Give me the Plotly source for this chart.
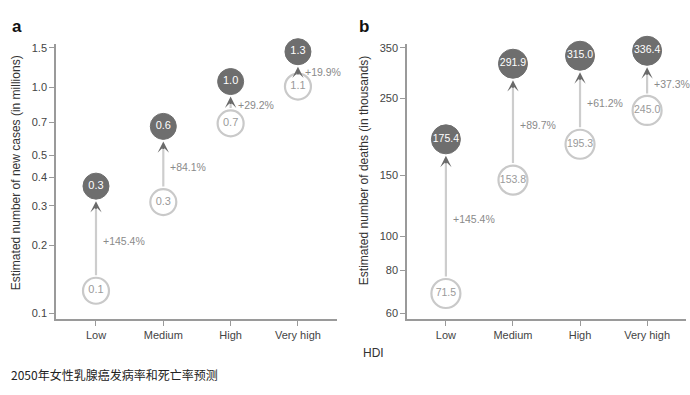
import numpy as np
import plotly.graph_objects as go

# ---------------- data ----------------
categories = ["Low", "Medium", "High", "Very high"]

# Panel a: new cases (millions) - circle positions
cases_2022_pos = [0.126, 0.311, 0.694, 1.01]
cases_2050_pos = [0.366, 0.673, 1.063, 1.441]
cases_2022_lbl = ["0.1", "0.3", "0.7", "1.1"]
cases_2050_lbl = ["0.3", "0.6", "1.0", "1.3"]
cases_change = ["+145.4%", "+84.1%", "+29.2%", "+19.9%"]

# Panel b: deaths (thousands)
deaths_2022_pos = [68.5, 145.4, 184.5, 230.9]
deaths_2050_pos = [190.6, 314.9, 332.0, 343.1]
deaths_2022_lbl = ["71.5", "153.8", "195.3", "245.0"]
deaths_2050_lbl = ["175.4", "291.9", "315.0", "336.4"]
deaths_change = ["+145.4%", "+89.7%", "+61.2%", "+37.3%"]

cases_ticks = [0.1, 0.2, 0.3, 0.4, 0.5, 0.7, 1.0, 1.5]
cases_ticktext = ["0.1", "0.2", "0.3", "0.4", "0.5", "0.7", "1.0", "1.5"]
deaths_ticks = [60, 80, 100, 150, 250, 350]
deaths_ticktext = ["60", "80", "100", "150", "250", "350"]

# ---------------- style ----------------
FONT = "Liberation Sans, Arial, sans-serif"
FILL = "#6e6e6e"
OPEN_LINE = "#c9c9c9"
SHAFT = "#cdcdcd"
HEAD = "#6a6a6a"
PCT = "#8a8a8a"
AXIS = "#9a9a9a"

W, H = 690, 395

fig = go.Figure()
annotations = []

panels = [
    dict(xa="x", ya="y", p22=cases_2022_pos, p50=cases_2050_pos, l22=cases_2022_lbl,
         l50=cases_2050_lbl, chg=cases_change, size=26, tsize=11),
    dict(xa="x2", ya="y2", p22=deaths_2022_pos, p50=deaths_2050_pos, l22=deaths_2022_lbl,
         l50=deaths_2050_lbl, chg=deaths_change, size=29, tsize=10.5),
]

xs = list(range(len(categories)))
for p in panels:
    r = p["size"] / 2 + 1
    # open circles (2022)
    fig.add_trace(go.Scatter(
        x=xs, y=p["p22"], xaxis=p["xa"], yaxis=p["ya"], mode="markers+text",
        marker=dict(size=p["size"], color="white", line=dict(color=OPEN_LINE, width=2.2)),
        text=p["l22"], textposition="middle center",
        textfont=dict(family=FONT, size=p["tsize"], color="#9a9a9a"),
        cliponaxis=False, showlegend=False, hoverinfo="skip"))
    # filled circles (2050)
    fig.add_trace(go.Scatter(
        x=xs, y=p["p50"], xaxis=p["xa"], yaxis=p["ya"], mode="markers+text",
        marker=dict(size=p["size"], color=FILL, line=dict(color=FILL, width=1)),
        text=p["l50"], textposition="middle center",
        textfont=dict(family=FONT, size=p["tsize"], color="white"),
        cliponaxis=False, showlegend=False, hoverinfo="skip"))
    for i in xs:
        y0 = np.log10(p["p22"][i])
        y1 = np.log10(p["p50"][i])
        # shaft
        annotations.append(dict(
            x=i, y=y1, ax=i, ay=y0, xref=p["xa"], yref=p["ya"], axref=p["xa"], ayref=p["ya"],
            text="", showarrow=True, arrowhead=0, arrowwidth=2.2, arrowcolor=SHAFT,
            standoff=r + 5, startstandoff=r, font=dict(size=1)))
        # head
        annotations.append(dict(
            x=i, y=y1, xref=p["xa"], yref=p["ya"], ax=0, ay=r + 10,
            text="", showarrow=True, arrowhead=3, arrowsize=0.95, arrowwidth=2,
            arrowcolor=HEAD, standoff=r + 1, font=dict(size=1)))
        # percentage label
        annotations.append(dict(
            x=i, y=(y0 + y1) / 2, xref=p["xa"], yref=p["ya"], text=p["chg"][i],
            showarrow=False, xanchor="left", yanchor="middle", xshift=5, yshift=-3,
            font=dict(family=FONT, size=10.5, color=PCT)))

# panel letters, titles, caption
annotations += [
    dict(x=10 / W, y=1 - 25 / H, xref="paper", yref="paper", text="<b>a</b>", showarrow=False,
         xanchor="left", yanchor="middle", font=dict(family=FONT, size=17, color="#111")),
    dict(x=357 / W, y=1 - 25 / H, xref="paper", yref="paper", text="<b>b</b>", showarrow=False,
         xanchor="left", yanchor="middle", font=dict(family=FONT, size=17, color="#111")),
    dict(x=16 / W, y=1 - 172 / H, xref="paper", yref="paper",
         text="Estimated number of new cases (in millions)", textangle=-90, showarrow=False,
         xanchor="center", yanchor="middle", font=dict(family=FONT, size=12, color="#333")),
    dict(x=364 / W, y=1 - 170 / H, xref="paper", yref="paper",
         text="Estimated number of deaths (in thousands)", textangle=-90, showarrow=False,
         xanchor="center", yanchor="middle", font=dict(family=FONT, size=12, color="#333")),
    dict(x=361 / W, y=1 - 353 / H, xref="paper", yref="paper", text="HDI", showarrow=False,
         xanchor="left", yanchor="middle", font=dict(family=FONT, size=12, color="#333")),
    dict(x=9 / W, y=1 - 374 / H, xref="paper", yref="paper", text="2050年女性乳腺癌发病率和死亡率预测",
         showarrow=False, xanchor="left", yanchor="middle",
         font=dict(family="Noto Sans CJK SC", size=12, color="#222")),
]

axis_common = dict(showline=True, linecolor=AXIS, linewidth=1.5, ticks="outside", ticklen=5,
                   tickcolor=AXIS, tickwidth=1, showgrid=False, zeroline=False,
                   tickfont=dict(family=FONT, size=11, color="#444"))

ydom = [1 - 319 / H, 1 - 42 / H]
fig.update_layout(
    width=W, height=H, autosize=False,
    margin=dict(l=0, r=0, t=0, b=0, pad=0),
    paper_bgcolor="white", plot_bgcolor="white",
    xaxis=dict(domain=[56 / W, 337 / W], range=[-0.594, 3.58], tickvals=xs, ticktext=categories,
               anchor="y", **axis_common),
    yaxis=dict(domain=ydom, type="log", range=[-1.0264, 0.1937], tickvals=cases_ticks,
               ticktext=cases_ticktext, anchor="x", **axis_common),
    xaxis2=dict(domain=[407 / W, 686 / W], range=[-0.58, 3.58], tickvals=xs, ticktext=categories,
                anchor="y2", **axis_common),
    yaxis2=dict(domain=ydom, type="log", range=[1.761, 2.5556], tickvals=deaths_ticks,
                ticktext=deaths_ticktext, anchor="x2", **axis_common),
    annotations=annotations,
)

fig.write_html("out.html", config={"displayModeBar": False},
               post_script="document.body.style.margin='0';document.body.style.overflow='hidden';")
